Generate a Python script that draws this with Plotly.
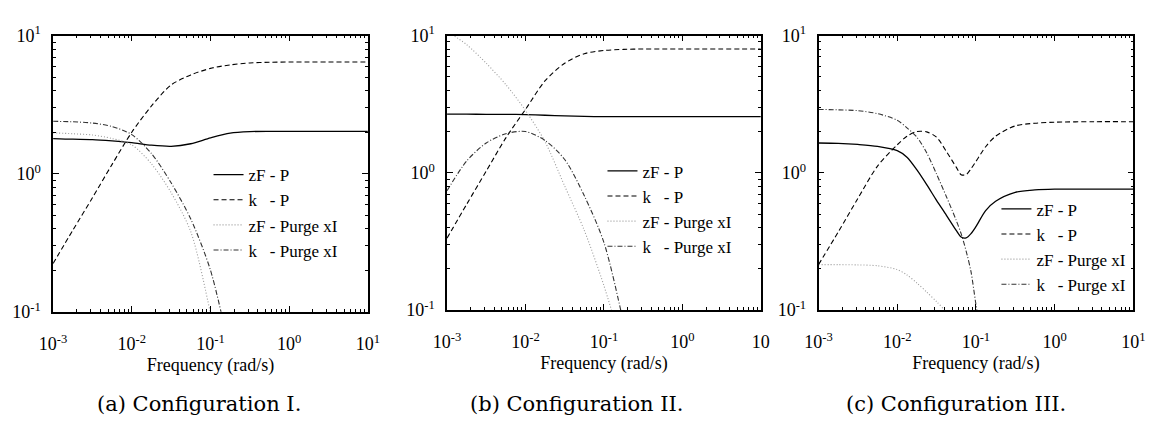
import plotly.graph_objects as go

# ---------------- data ----------------
freq = [0.001, 0.00178, 0.00316, 0.00562, 0.01, 0.0178, 0.0316, 0.0562,
        0.1, 0.178, 0.316, 0.562, 1, 1.78, 3.16, 5.62, 10]

# Configuration I
a_zF_P = [1.80, 1.78, 1.77, 1.73, 1.68, 1.61, 1.58, 1.65, 1.82, 1.97, 2.02, 2.03, 2.03, 2.03, 2.03, 2.03, 2.03]
a_k_P = [0.224, 0.39, 0.67, 1.17, 2.0, 3.1, 4.4, 5.2, 5.8, 6.15, 6.35, 6.42, 6.45, 6.45, 6.45, 6.45, 6.45]
a_zF_purge = [1.98, 1.95, 1.91, 1.80, 1.62, 1.18, 0.73, 0.38, 0.098, 0.02]
a_k_purge = [2.40, 2.38, 2.33, 2.20, 1.92, 1.40, 0.86, 0.47, 0.20, 0.05]

# Configuration II
b_zF_P = [2.68, 2.68, 2.67, 2.67, 2.66, 2.63, 2.60, 2.58, 2.57, 2.57, 2.57, 2.57, 2.57, 2.57, 2.57, 2.57, 2.57]
b_k_P = [0.334, 0.59, 1.03, 1.80, 2.9, 4.7, 6.3, 7.4, 7.8, 7.95, 8.0, 8.0, 8.0, 8.0, 8.0, 8.0, 8.0]
b_zF_purge = [10.8, 8.6, 6.3, 4.4, 2.85, 1.68, 0.80, 0.38, 0.15, 0.05]
b_k_purge = [0.74, 1.22, 1.65, 1.93, 2.0, 1.72, 1.25, 0.68, 0.31, 0.08]

# Configuration III (finer grid around the notch)
freq_c = [0.001, 0.00178, 0.00316, 0.00562, 0.01, 0.0133, 0.0178, 0.0237, 0.0316,
          0.0422, 0.0562, 0.0649, 0.075, 0.0866, 0.1, 0.133, 0.178, 0.316, 0.562, 1, 3.16, 10]
c_zF_P = [1.65, 1.64, 1.61, 1.56, 1.45, 1.30, 1.05, 0.82, 0.63, 0.49, 0.38, 0.34, 0.335, 0.36,
          0.405, 0.53, 0.62, 0.72, 0.75, 0.76, 0.76, 0.76]
c_k_P = [0.214, 0.37, 0.65, 1.12, 1.60, 1.85, 2.0, 1.99, 1.82, 1.43, 1.10, 0.97, 0.97, 1.07,
         1.21, 1.55, 1.85, 2.2, 2.3, 2.34, 2.36, 2.36]
c_zF_purge = [0.214, 0.214, 0.213, 0.21, 0.197, 0.18, 0.157, 0.135, 0.115, 0.096, 0.07, 0.06, 0.05]
c_k_purge = [2.90, 2.88, 2.84, 2.70, 2.42, 2.13, 1.82, 1.40, 0.98, 0.67, 0.45, 0.36, 0.27, 0.19,
             0.11, 0.04]

series_names = ["zF - P", "k\u00a0\u00a0\u00a0- P", "zF - Purge xI", "k\u00a0\u00a0\u00a0- Purge xI"]
captions = ["(a) Configuration I.", "(b) Configuration II.", "(c) Configuration III."]
x_tickvals = [0.001, 0.01, 0.1, 1, 10]
x_ticktext = ["10<sup>-3</sup>", "10<sup>-2</sup>", "10<sup>-1</sup>", "10<sup>0</sup>", "10<sup>1</sup>"]
x_ticktext_b = ["10<sup>-3</sup>", "10<sup>-2</sup>", "10<sup>-1</sup>", "10<sup>0</sup>", "10"]
y_tickvals = [0.1, 1, 10]
y_ticktext = ["10<sup>-1</sup>", "10<sup>0</sup>", "10<sup>1</sup>"]
x_minor = [m * d for d in (0.001, 0.01, 0.1, 1) for m in range(2, 10)]
y_minor = [m * d for d in (0.1, 1) for m in range(2, 10)]
x_title = "Frequency (rad/s)"

# ---------------- styling ----------------
W, H = 1158, 430
FONT = "Liberation Serif"
CAP_FONT = "DejaVu Serif"
styles = [
    dict(color="black", width=1.3, dash="solid"),
    dict(color="black", width=1.1, dash="5px,3px"),
    dict(color="#9a9a9a", width=1.1, dash="1px,2px"),
    dict(color="#333333", width=1.1, dash="5px,2px,1px,2px"),
]

panels = [
    dict(x=freq, data=[a_zF_P, a_k_P, a_zF_purge, a_k_purge], px=(40, 362), py=(25, 316),
         legend="legend", ttext=x_ticktext, leg_x=199, leg_y=174, cap_x=189),
    dict(x=freq, data=[b_zF_P, b_k_P, b_zF_purge, b_k_purge], px=(443, 764), py=(25, 314),
         legend="legend2", ttext=x_ticktext_b, leg_x=602, leg_y=170, cap_x=576),
    dict(x=freq_c, data=[c_zF_P, c_k_P, c_zF_purge, c_k_purge], px=(823, 1145), py=(25, 314),
         legend="legend3", ttext=x_ticktext, leg_x=1005, leg_y=210, cap_x=964),
]

fig = go.Figure()
layout = dict(width=W, height=H, margin=dict(l=0, r=0, t=0, b=0),
              paper_bgcolor="white", plot_bgcolor="white",
              font=dict(family=FONT, color="black", size=17), annotations=[])

for i, p in enumerate(panels):
    sfx = "" if i == 0 else str(i + 1)
    xa, ya = "x" + sfx, "y" + sfx
    for j, (vals, st, nm) in enumerate(zip(p["data"], styles, series_names)):
        fig.add_trace(go.Scatter(
            x=p["x"][:len(vals)], y=vals, mode="lines", name=nm,
            line=dict(color=st["color"], width=st["width"], dash=st["dash"], shape="spline", smoothing=0.8),
            xaxis=xa, yaxis=ya, legend=p["legend"], legendgroup=f"{i}_{j}",
        ))
    axis_common = dict(type="log", showline=True, linecolor="black", linewidth=1.5, mirror="ticks",
                       ticks="inside", ticklen=6, tickwidth=1, tickcolor="black", showgrid=False,
                       zeroline=False, tickfont=dict(family=FONT, size=18, color="black"))
    layout["xaxis" + sfx] = dict(axis_common, domain=[p["px"][0] / W, p["px"][1] / W],
                                 range=[-3, 1], tickmode="array", tickvals=x_tickvals, ticktext=p["ttext"],
                                 ticklabelstandoff=15,
                                 minor=dict(tickmode="array", tickvals=x_minor, ticks="inside", ticklen=3,
                                            tickwidth=1, tickcolor="black", showgrid=False),
                                 anchor=ya, title=dict(text=x_title, font=dict(size=18), standoff=5))
    layout["yaxis" + sfx] = dict(axis_common, domain=[1 - p["py"][1] / H, 1 - p["py"][0] / H],
                                 range=[-1, 1], tickmode="array", tickvals=y_tickvals, ticktext=y_ticktext,
                                 ticklabelstandoff=7,
                                 minor=dict(tickmode="array", tickvals=y_minor, ticks="inside", ticklen=3,
                                            tickwidth=1, tickcolor="black", showgrid=False),
                                 anchor=xa)
    layout[p["legend"]] = dict(x=p["leg_x"] / W, y=1 - (p["leg_y"] - 21) / H,
                               xanchor="left", yanchor="top", bgcolor="rgba(0,0,0,0)",
                               borderwidth=0, tracegroupgap=0, font=dict(family=FONT, size=17))
    layout["annotations"].append(dict(text=captions[i], x=p["cap_x"] / W, y=1 - 413 / H,
                                      xref="paper", yref="paper", showarrow=False,
                                      font=dict(family=CAP_FONT, size=21), xanchor="center", yanchor="middle"))

fig.update_layout(**layout)
fig.write_html("out.html")
